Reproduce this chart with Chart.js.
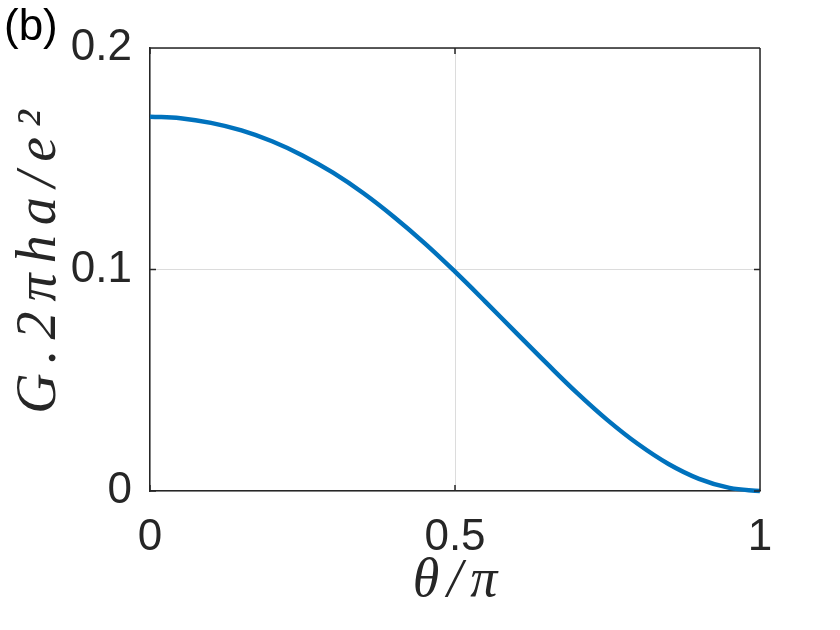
<!DOCTYPE html>
<html>
<head>
<meta charset="utf-8">
<script src="https://cdn.jsdelivr.net/npm/chart.js@4/dist/chart.umd.min.js"></script>
<style>
  body { margin: 0; background: #fff; }
  canvas { display: block; }
</style>
</head>
<body>
<canvas id="graphG" width="840" height="630"></canvas>
<script>
// theta / pi
const thetaValues = [0, 0.05, 0.1, 0.15, 0.2, 0.25, 0.3, 0.35, 0.4, 0.45, 0.5,
                     0.55, 0.6, 0.65, 0.7, 0.75, 0.8, 0.85, 0.9, 0.95, 1];
// G.2*pi*h*a/e^2
const conductance = [0.169, 0.1683, 0.1662, 0.1628, 0.1579, 0.1515, 0.1437, 0.1344, 0.1237, 0.1119, 0.0990,
                     0.0854, 0.0715, 0.0577, 0.0443, 0.0320, 0.0212, 0.0122, 0.0055, 0.0014, 0];
const xTicks = [0, 0.5, 1];
const yTicks = [0, 0.1, 0.2];
const panelLabel = '(b)';
const xTitle = 'θ/π';
const yTitle = 'G.2πha/e²';

const axisColor = '#262626';
const tickFont = { family: 'Liberation Sans, Arial, sans-serif', size: 44 };

const framePlugin = {
    id: 'frame',
    afterDraw(chart) {
        const { ctx, chartArea: a, scales } = chart;
        ctx.save();
        ctx.strokeStyle = axisColor;
        ctx.lineWidth = 1.5;
        ctx.beginPath();
        ctx.moveTo(a.left, a.top); ctx.lineTo(a.right, a.top);
        ctx.moveTo(a.right, a.top); ctx.lineTo(a.right, a.bottom);
        // inward ticks
        xTicks.forEach(v => {
            const x = scales.x.getPixelForValue(v);
            ctx.moveTo(x, a.bottom); ctx.lineTo(x, a.bottom - 6);
            ctx.moveTo(x, a.top); ctx.lineTo(x, a.top + 6);
        });
        yTicks.forEach(v => {
            const y = scales.y.getPixelForValue(v);
            ctx.moveTo(a.left, y); ctx.lineTo(a.left + 6, y);
            ctx.moveTo(a.right, y); ctx.lineTo(a.right - 6, y);
        });
        ctx.stroke();

        ctx.fillStyle = '#000';
        ctx.font = '44px Liberation Sans, Arial, sans-serif';
        ctx.textBaseline = 'alphabetic';
        ctx.fillText(panelLabel, 4, 40);

        // axis titles, spaced out like the LaTeX labels
        ctx.fillStyle = axisColor;
        ctx.textAlign = 'center';
        ctx.textBaseline = 'middle';
        ctx.font = 'italic 54px Liberation Serif, DejaVu Serif, serif';
        ctx.letterSpacing = '8px';
        ctx.fillText(xTitle, (a.left + a.right) / 2 + 4, 582);

        ctx.font = 'italic 56px Liberation Serif, DejaVu Serif, serif';
        ctx.letterSpacing = '10px';
        ctx.translate(40, 262);
        ctx.rotate(-Math.PI / 2);
        ctx.fillText(yTitle, 5, 0);
        ctx.restore();
    }
};

new Chart(document.getElementById('graphG'), {
    type: 'line',
    data: {
        datasets: [{
            data: thetaValues.map((t, i) => ({ x: t, y: conductance[i] })),
            borderColor: '#0072BD',
            borderWidth: 4.5,
            pointRadius: 0,
            tension: 0.4,
            clip: false
        }]
    },
    options: {
        responsive: false,
        animation: false,
        layout: { padding: { top: 48, right: 80, left: 0, bottom: 0 } },
        plugins: { legend: { display: false }, tooltip: { enabled: false } },
        scales: {
            x: {
                type: 'linear',
                min: 0, max: 1,
                afterFit: scale => { scale.height = 139; },
                afterBuildTicks: scale => { scale.ticks = xTicks.map(v => ({ value: v })); },
                ticks: {
                    color: axisColor, font: tickFont, padding: 20, maxRotation: 0,
                    callback: v => String(v)
                },
                grid: { color: '#dcdcdc', lineWidth: 1, drawTicks: false },
                border: { color: axisColor, width: 1.5 }
            },
            y: {
                min: 0, max: 0.2,
                afterFit: scale => { scale.width = 150; },
                afterBuildTicks: scale => { scale.ticks = yTicks.map(v => ({ value: v })); },
                ticks: {
                    color: axisColor, font: tickFont, padding: 18,
                    callback: v => String(v)
                },
                grid: { color: '#dcdcdc', lineWidth: 1, drawTicks: false },
                border: { color: axisColor, width: 1.5 }
            }
        }
    },
    plugins: [framePlugin]
});
</script>
</body>
</html>
